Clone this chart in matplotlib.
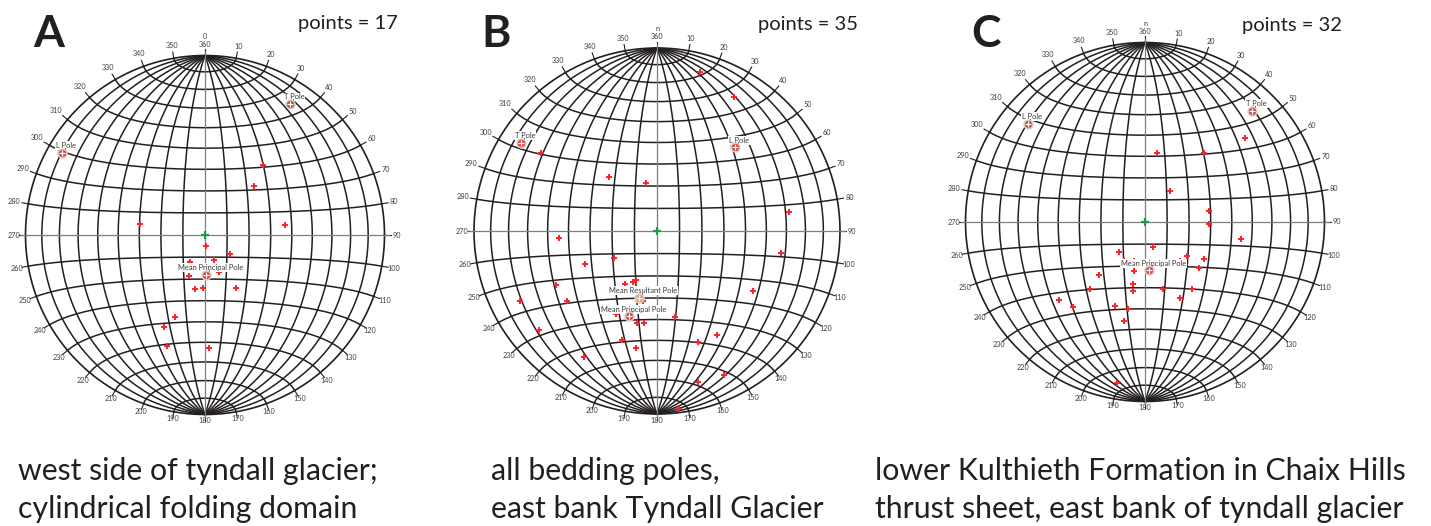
import numpy as np
import matplotlib
matplotlib.use("Agg")
import matplotlib.pyplot as plt

plt.rcParams['font.family'] = ['Lato', 'DejaVu Sans']

# ---------------- data (trend, plunge in degrees; lower hemisphere) ----------------
A_trend = [40, 45, 280, 83, 176, 127, 160, 160, 201, 208, 190, 182, 150, 200, 204, 199, 178]
A_plunge = [48, 58, 60, 53, 85, 76, 78, 72, 70, 76, 65, 66, 62, 50, 43, 35, 37]
A_pole_names = ["T Pole", "L Pole", "Mean Principal Pole"]
A_pole_trend = [33, 300, 178]
A_pole_plunge = [14, 9, 72]

B_trend = [15, 30, 304, 318, 347, 82, 266, 100, 238, 245, 203, 205, 211, 242, 122,
           243, 232, 191, 206, 168, 192, 188, 230, 150, 198, 160, 190, 210, 155, 165,
           173, 212, 171, 209, 180]
B_plunge = [11, 16.5, 24.5, 57.5, 68, 28, 45.5, 32, 67.5, 54.5, 66.5, 65, 62.5, 37.5, 38,
            17, 37.5, 58, 48, 50.5, 47.5, 48, 17, 34.5, 37.5, 35.5, 35.5, 21.5, 14.5, 15.5,
            2.5, 59, 63, 50, 55]
B_pole_names = ["T Pole", "L Pole", "Mean Resultant Pole", "Mean Principal Pole"]
B_pole_trend = [303, 43, 195, 198]
B_pole_plunge = [12.5, 37.5, 59, 49.5]

C_trend = [50, 10, 40.5, 39.5, 80, 91.5, 100, 162, 221, 129, 122, 130, 221, 193, 190.5,
           219, 190, 165, 145, 228, 155, 220, 200, 191, 192, 190, 208.5, 196, 184, 161,
           149, 138]
C_plunge = [28, 58, 48, 72, 60.5, 61, 45, 78, 72, 65.5, 58, 57.5, 58, 67, 61,
            50, 58, 58.5, 52.5, 35.5, 51.5, 38, 49, 49, 43, 10, 70, 71.5, 72, 71,
            69, 66]
C_pole_names = ["T Pole", "L Pole", "Mean Principal Pole"]
C_pole_trend = [44, 310, 175]
C_pole_plunge = [15, 16, 68]

panel_letters = ["A", "B", "C"]
north_labels = ["0", "n", "n"]
captions = [
    ["west side of tyndall glacier;", "cylindrical folding domain"],
    ["all bedding poles,", "east bank Tyndall Glacier"],
    ["lower Kulthieth Formation in Chaix Hills", "thrust sheet, east bank of tyndall glacier"],
]

# ---------------- styling ----------------
INK = '#231f20'
GRAY = '#7f7f7f'
LBL = '#3f3f3f'
RED = '#ff2222'
GREEN = '#1f9a4c'

W, H = 1431, 526
fig = plt.figure(figsize=(W / 100, H / 100), dpi=100)


def proj(trend, plunge):
    t = np.radians(np.asarray(trend, float))
    p = np.radians(np.asarray(plunge, float))
    r = np.sqrt(2) * np.sin((np.pi / 2 - p) / 2)
    return r * np.sin(t), r * np.cos(t)


def schmidt(lam, phi):
    lam = np.radians(lam)
    phi = np.radians(phi)
    k = np.sqrt(2 / (1 + np.cos(phi) * np.cos(lam)))
    return k * np.cos(phi) * np.sin(lam) / np.sqrt(2), k * np.sin(phi) / np.sqrt(2)


def draw_net(cx, cy, R, trend, plunge, pnames, ptrend, pplunge, north):
    pad = 1.3
    ax = fig.add_axes([(cx - pad * R) / W, (H - cy - pad * R) / H, 2 * pad * R / W, 2 * pad * R / H])
    ax.set_xlim(-pad, pad)
    ax.set_ylim(-pad, pad)
    ax.axis('off')
    lw = 1.1
    t = np.linspace(-90, 90, 361)
    for lam in range(-80, 90, 10):
        if lam == 0:
            continue
        x, y = schmidt(np.full_like(t, lam), t)
        ax.plot(x, y, color=INK, lw=lw, zorder=1, solid_capstyle='butt')
    for phi in range(-80, 90, 10):
        if phi == 0:
            continue
        x, y = schmidt(t, np.full_like(t, phi))
        ax.plot(x, y, color=INK, lw=lw, zorder=1)
    a = np.linspace(0, 2 * np.pi, 721)
    ax.plot(np.cos(a), np.sin(a), color=INK, lw=lw * 1.1, zorder=1)
    # axes
    ax.plot([-1.025, 1.025], [0, 0], color=GRAY, lw=0.9, zorder=1.5)
    ax.plot([0, 0], [-1.02, 1.02], color=GRAY, lw=0.9, zorder=1.5)
    # ticks and labels
    for az in range(0, 360, 10):
        ar = np.radians(az)
        s, c = np.sin(ar), np.cos(ar)
        ax.plot([s, s * 1.035], [c, c * 1.035], color=INK, lw=0.8, zorder=1)
        lab = '360' if az == 0 else str(az)
        hw = len(lab) * 1.9 / R
        hh = 3.4 / R
        if c >= 0:
            r = 1.045 + abs(s) * hw + c * hh
        else:
            r = 1.035 + abs(s) * hw
        ax.text(s * r, c * r, lab, fontsize=5.2, color=LBL, ha='center', va='center', zorder=2)
    ax.text(0, 1.067 + 7.0 / R, north, fontsize=5.2, color=LBL, ha='center', va='center', zorder=2)
    # centre
    ax.plot([0], [0], marker='+', ms=6, mew=1.6, color=GREEN, zorder=3, linestyle='none')
    # data
    x, y = proj(trend, plunge)
    ax.plot(x, y, marker='+', ms=4.5, mew=1.4, color=RED, linestyle='none', zorder=3)
    # special poles
    px, py = proj(ptrend, pplunge)
    for name, xx, yy in zip(pnames, px, py):
        fc = '#f29a6a' if 'Resultant' in name else '#d9403a'
        ax.text(xx + 4 / R, yy + 7 / R, name, fontsize=5.4, color='#3a3a3a', ha='center', va='center',
                zorder=4, bbox=dict(boxstyle='square,pad=0.12', fc='white', ec='none'))
        ax.plot([xx + 2.5 / R, xx + 2.5 / R], [yy + 2 / R, yy + 5 / R], color=INK, lw=0.6, zorder=4.5)
        ax.plot([xx], [yy], marker='o', ms=7.5, color='#cfcfcf', mec='none', linestyle='none', zorder=5)
        ax.plot([xx], [yy], marker='o', ms=5.2, color=fc, mec='none', linestyle='none', zorder=5)
        ax.plot([xx], [yy], marker='+', ms=4.0, mew=0.9, color='white', linestyle='none', zorder=5)
    return ax


nets = [
    (205, 235, 179.5, A_trend, A_plunge, A_pole_names, A_pole_trend, A_pole_plunge),
    (657, 231, 183.0, B_trend, B_plunge, B_pole_names, B_pole_trend, B_pole_plunge),
    (1145, 222, 179.5, C_trend, C_plunge, C_pole_names, C_pole_trend, C_pole_plunge),
]
letter_x = [33, 481, 971]
count_right = [398, 858, 1342]
count_base = [29, 30, 31]
caption_x = [18, 491, 875]

for i, (cx, cy, R, tr, pl, pn, pt, pp) in enumerate(nets):
    draw_net(cx, cy, R, tr, pl, pn, pt, pp, north_labels[i])
    fig.text(letter_x[i] / W, 1 - 47 / H, panel_letters[i], fontsize=32, fontweight='bold',
             color=INK, ha='left', va='baseline')
    fig.text(count_right[i] / W, 1 - count_base[i] / H, f"points = {len(tr)}", fontsize=14.5,
             color=INK, ha='right', va='baseline')
    fig.text(caption_x[i] / W, 1 - 480 / H, captions[i][0], fontsize=21.8, color=INK,
             ha='left', va='baseline')
    fig.text(caption_x[i] / W, 1 - 518 / H, captions[i][1], fontsize=21.8, color=INK,
             ha='left', va='baseline')

fig.savefig('out.png', dpi=100, facecolor='white')
